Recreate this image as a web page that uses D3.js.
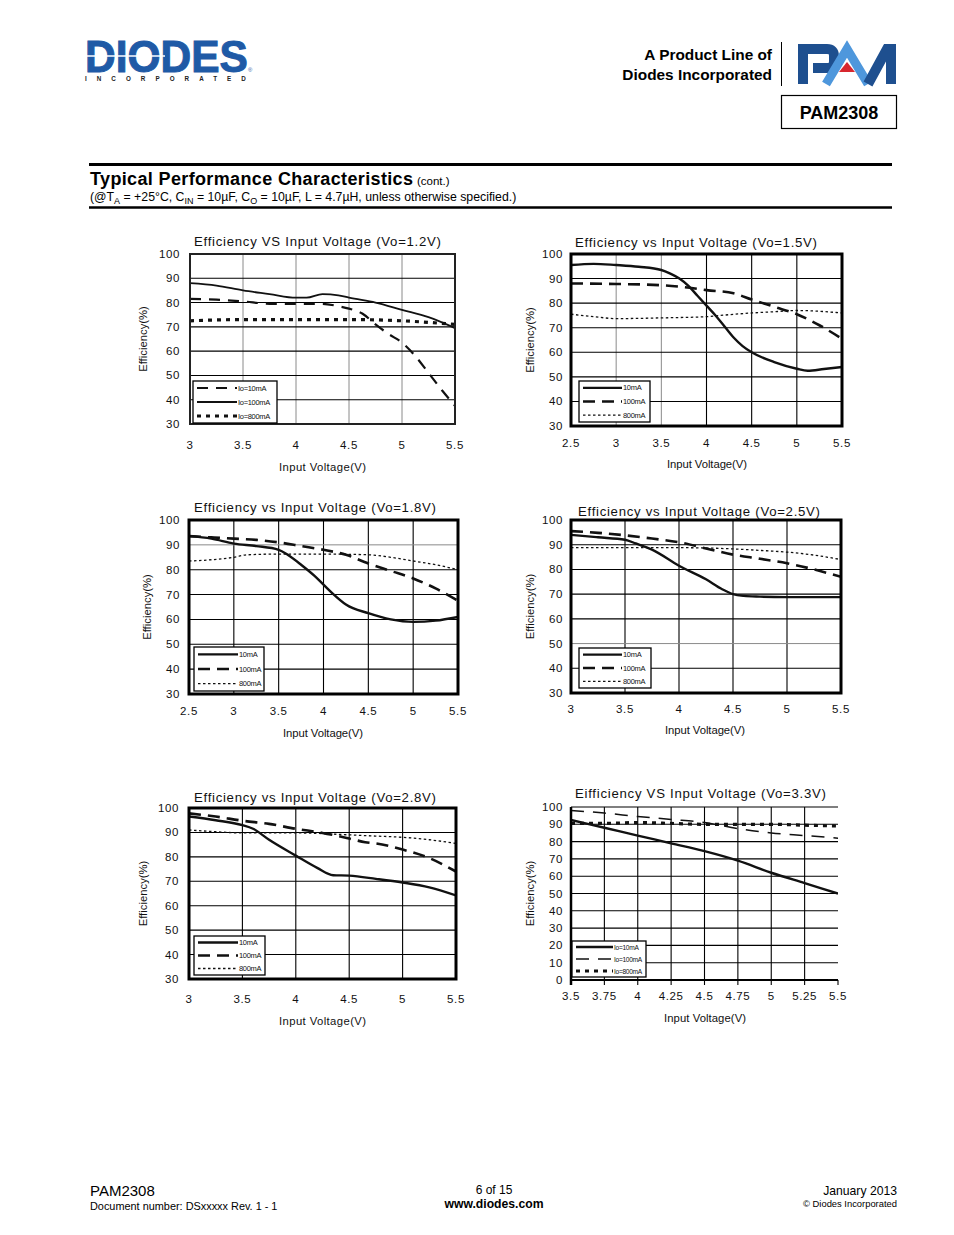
<!DOCTYPE html>
<html><head><meta charset="utf-8">
<script src="https://cdn.jsdelivr.net/npm/d3@7"></script>
<style>
html,body{margin:0;padding:0;background:#fff;}
svg{display:block;font-family:"Liberation Sans",Arial,sans-serif;}
</style></head>
<body><svg id="page" width="954" height="1235"></svg>
<script>
// ---------------- DATA ----------------
const seriesNames = ["10mA","100mA","800mA"];
// Vo = 1.2V
const v12_x10  = [3,3.25,3.5,3.75,4,4.25,4.4,4.5,4.625,4.75,4.875,5,5.125,5.25,5.375,5.5];
const v12_e10  = [81.5,81.2,80.5,79.5,79.5,79.5,78.5,77.5,75.5,71,67,63.5,58,51,44,37.5];
const v12_x100 = [3,3.25,3.5,3.75,4,4.1,4.25,4.4,4.5,4.75,5,5.25,5.5];
const v12_e100 = [88,87,85,83.5,82,82,83.5,83,82,80,77,74,69.5];
const v12_x800 = [3,3.5,4,4.5,5,5.5];
const v12_e800 = [72.5,73,73,73,72.5,71];
// Vo = 1.5V
const v15_x10  = [2.5,2.75,3,3.25,3.5,3.6,3.7,3.8,3.9,4,4.1,4.2,4.3,4.4,4.5,4.75,5,5.12,5.3,5.5];
const v15_e10  = [95.5,96,95.5,94.8,93.5,92,90,87,83,79,75,70.5,66,62.5,60,56,53.3,52.5,53.2,54];
const v15_x100 = [2.5,3,3.5,3.75,4,4.3,4.5,4.75,5,5.25,5.5];
const v15_e100 = [88,87.8,87.3,86.5,85.3,84,81.5,78.5,75.5,71,65.5];
const v15_x800 = [2.5,2.75,3,3.5,4,4.25,4.5,4.75,5,5.5];
const v15_e800 = [75.5,74.5,73.7,74,74.5,75.3,76,76.5,77,76];
// Vo = 1.8V
const v18_x10  = [2.5,2.75,3,3.25,3.5,3.6,3.75,3.9,4,4.1,4.25,4.5,4.75,5,5.25,5.5];
const v18_e10  = [93.5,92.5,90.5,89.5,88,86,82,77.5,74,70.5,66,62.5,60,59,59.5,61];
const v18_x100 = [2.5,2.75,3,3.25,3.5,3.75,4,4.25,4.5,4.75,5,5.25,5.5];
const v18_e100 = [93.5,93,92.5,92,91,89.5,88,86,82.5,79.5,76.5,72.5,67.5];
const v18_x800 = [2.5,2.75,3,3.15,3.5,4,4.5,4.75,5,5.25,5.5];
const v18_e800 = [83.5,84,85,86,86.3,86.3,86,85,83.5,82,80];
// Vo = 2.5V
const v25_x10  = [3,3.25,3.5,3.6,3.75,4,4.25,4.4,4.5,4.6,4.75,5,5.5];
const v25_e10  = [94,93,92,90.5,88,81.5,76,72,70,69.3,69,68.8,68.8];
const v25_x100 = [3,3.25,3.5,3.75,4,4.25,4.5,4.75,5,5.25,5.5];
const v25_e100 = [95.5,94.8,93.8,92.5,91,88.5,86,84.3,82.5,80,77];
const v25_x800 = [3,3.5,4,4.5,4.75,5,5.25,5.5];
const v25_e800 = [88.8,88.8,88.8,88.3,87.7,87,85.8,84];
// Vo = 2.8V
const v28_x10  = [3,3.25,3.5,3.6,3.75,4,4.2,4.35,4.5,4.75,5,5.25,5.5];
const v28_e10  = [96.5,95,93,91.5,87,80.5,75.5,72.5,72.3,71,69.5,67.5,64.2];
const v28_x100 = [3,3.25,3.5,3.75,4,4.25,4.5,4.65,4.75,5,5.25,5.5];
const v28_e100 = [97.8,96.5,94.8,93.5,91.5,89.8,87.5,86,85.5,83,79.5,74];
const v28_x800 = [3,3.25,3.5,4,4.5,4.75,5,5.25,5.5];
const v28_e800 = [91,90.3,89.8,89.8,89,88.5,88,87,85.5];
// Vo = 3.3V
const v33_x    = [3.5,3.75,4,4.25,4.5,4.75,5,5.25,5.5];
const v33_e10  = [92.5,88,83.5,79,74.5,69,62,56,50];
const v33_e100 = [98,96.5,94.5,92.8,91,87.5,85,83.5,82];
const v33_e800 = [90.5,90.5,91,90.5,90,90,90,89.5,89];

// Tick labels
const xTicks25 = [2.5,3,3.5,4,4.5,5,5.5];
const xTicks3  = [3,3.5,4,4.5,5,5.5];
const xTicks35 = [3.5,3.75,4,4.25,4.5,4.75,5,5.25,5.5];
const yTicks30 = [30,40,50,60,70,80,90,100];
const yTicks0  = [0,10,20,30,40,50,60,70,80,90,100];

const titles = [
  "Efficiency VS Input Voltage (Vo=1.2V)",
  "Efficiency vs Input Voltage (Vo=1.5V)",
  "Efficiency vs Input Voltage (Vo=1.8V)",
  "Efficiency vs Input Voltage (Vo=2.5V)",
  "Efficiency vs Input Voltage (Vo=2.8V)",
  "Eifficiency VS Input Voltage (Vo=3.3V)"
];
const legendLabels1 = ["Io=10mA","Io=100mA","Io=800mA"];
const legendLabels2 = ["10mA","100mA","800mA"];

const zip = (xs, ys) => xs.map((x,i)=>({x, y: ys[i]}));

// ---------------- STYLES / LAYOUT ----------------
const stDash  = {w:2.2, dash:"11,8"};
const stSolid = {w:1.8, dash:null};
const stDotSq = {w:3.2, dash:"4,5"};
const stDotThin = {w:1.3, dash:"2.5,2.5"};
const stDashThin = {w:1.5, dash:"13,9"};
const stSolidThick = {w:2.4, dash:null};
const stDashThick = {w:2.6, dash:"12,7"};

const charts = [
  { title: titles[0], xDomain:[3,5.5], xTicks:xTicks3, yDomain:[30,100], yTicks:yTicks30,
    plot:[190,254,455,424], frame:"box2", vGridGray:[3.5,4,4.5,5], hGridGray:[],
    titleX:[194,441], titleY:246, ytickX:180, xtickY:449, ylabX:147, xlab:[279,366], xlabY:471,
    legend:[193,381,277,423], legendSample:40, legendFont:7.5, legendLabels:legendLabels1,
    series:[ {d:zip(v12_x10,v12_e10), st:stDash}, {d:zip(v12_x100,v12_e100), st:stSolid}, {d:zip(v12_x800,v12_e800), st:stDotSq} ] },
  { title: titles[1], xDomain:[2.5,5.5], xTicks:xTicks25, yDomain:[30,100], yTicks:yTicks30,
    plot:[571,254,842,426], frame:"box3", vGridGray:[3,3.5], hGridGray:[],
    titleX:[575,817], titleY:247, ytickX:563, xtickY:447, ylabX:534, xlab:[667,747], xlabY:468,
    legend:[579,381,650,422], legendSample:39, legendFont:7.5, legendLabels:legendLabels2,
    series:[ {d:zip(v15_x10,v15_e10), st:stSolidThick}, {d:zip(v15_x100,v15_e100), st:stDashThick}, {d:zip(v15_x800,v15_e800), st:stDotThin} ] },
  { title: titles[2], xDomain:[2.5,5.5], xTicks:xTicks25, yDomain:[30,100], yTicks:yTicks30,
    plot:[189,520,458,694], frame:"box3", vGridGray:[], hGridGray:[90],
    titleX:[194,436], titleY:512, ytickX:180, xtickY:715, ylabX:151, xlab:[283,363], xlabY:737,
    legend:[194,647,264,691], legendSample:40, legendFont:7.5, legendLabels:legendLabels2,
    series:[ {d:zip(v18_x10,v18_e10), st:stSolidThick}, {d:zip(v18_x100,v18_e100), st:stDashThick}, {d:zip(v18_x800,v18_e800), st:stDotThin} ] },
  { title: titles[3], xDomain:[3,5.5], xTicks:xTicks3, yDomain:[30,100], yTicks:yTicks30,
    plot:[571,520,841,693], frame:"box3", vGridGray:[], hGridGray:[50],
    titleX:[578,820], titleY:516, ytickX:563, xtickY:713, ylabX:534, xlab:[665,745], xlabY:734,
    legend:[579,648,651,688], legendSample:39, legendFont:7.5, legendLabels:legendLabels2,
    series:[ {d:zip(v25_x10,v25_e10), st:stSolidThick}, {d:zip(v25_x100,v25_e100), st:stDashThick}, {d:zip(v25_x800,v25_e800), st:stDotThin} ] },
  { title: titles[4], xDomain:[3,5.5], xTicks:xTicks3, yDomain:[30,100], yTicks:yTicks30,
    plot:[189,808,456,979], frame:"box3", vGridGray:[], hGridGray:[],
    titleX:[194,436], titleY:802, ytickX:179, xtickY:1003, ylabX:147, xlab:[279,366], xlabY:1025,
    legend:[194,936,265,975], legendSample:40, legendFont:7.5, legendLabels:legendLabels2,
    series:[ {d:zip(v28_x10,v28_e10), st:stSolidThick}, {d:zip(v28_x100,v28_e100), st:stDashThick}, {d:zip(v28_x800,v28_e800), st:stDotThin} ] },
  { title: titles[5], xDomain:[3.5,5.5], xTicks:xTicks35, yDomain:[0,100], yTicks:yTicks0,
    plot:[571,807,838,980], frame:"axes", vGridGray:[], hGridGray:[],
    titleX:[575,826], titleY:798, ytickX:563, xtickY:1000, ylabX:534, xlab:[664,746], xlabY:1022,
    legend:[572,941,646,977], legendSample:37, legendFont:6.6, legendLabels:legendLabels1,
    series:[ {d:zip(v33_x,v33_e10), st:stSolidThick}, {d:zip(v33_x,v33_e100), st:stDashThin}, {d:zip(v33_x,v33_e800), st:stDotSq} ] }
];

const svg = d3.select("#page");
const defs = svg.append("defs");

// ---------------- HEADER ----------------
const blue = "#1f5aa6";
const hdr = svg.append("g");
// DIODES logo as a single text element (name, ®, INCORPORATED)
const logo = hdr.append("text").attr("transform","translate(85,72) scale(0.966,1)")
  .style("font-family","'Liberation Sans',Arial,sans-serif");
logo.append("tspan").attr("x",0).attr("y",0).attr("font-size",44).attr("font-weight","bold")
  .attr("fill",blue).attr("stroke",blue).attr("stroke-width",1).text("DIODES");
logo.append("tspan").attr("font-size",6).attr("fill",blue).attr("dy",0).text("®");
logo.append("tspan").attr("x",0).attr("y",9).attr("font-size",6.5).attr("font-weight","bold")
  .attr("fill","#222").attr("letter-spacing",10.4).text("INCORPORATED");
hdr.append("line").attr("x1",85).attr("x2",165).attr("y1",56).attr("y2",56).attr("stroke","#fff").attr("stroke-width",1.5);

hdr.append("text").attr("x",772).attr("y",60).attr("text-anchor","end").attr("font-size",15.4).attr("font-weight","bold").text("A Product Line of");
hdr.append("text").attr("x",772).attr("y",80).attr("text-anchor","end").attr("font-size",15.4).attr("font-weight","bold").text("Diodes Incorporated");
hdr.append("line").attr("x1",781.5).attr("x2",781.5).attr("y1",42).attr("y2",86).attr("stroke","#000").attr("stroke-width",1);
// PAM logo
const dark = "#1e4f8f", light = "#4e97dc";
hdr.append("path").attr("d","M803,84 V49 H827 Q834,49 834,56 V61 Q834,68 827,68 H813")
  .attr("fill","none").attr("stroke",dark).attr("stroke-width",10);
hdr.append("path").attr("d","M826,84 L847,49 L868,84").attr("fill","none").attr("stroke",light).attr("stroke-width",9);
hdr.append("path").attr("d","M839,72 L847,62 L855,72 Z").attr("fill","#d7262e");
hdr.append("path").attr("d","M868,84 L887,49 L891,49 L891,84").attr("fill","none").attr("stroke",dark).attr("stroke-width",10).attr("stroke-linejoin","miter");
hdr.append("rect").attr("x",781.5).attr("y",95.5).attr("width",115).attr("height",33).attr("fill","none").attr("stroke","#000").attr("stroke-width",1.2);
hdr.append("text").attr("x",839).attr("y",119).attr("text-anchor","middle").attr("font-size",18).attr("font-weight","bold").text("PAM2308");

hdr.append("line").attr("x1",89).attr("x2",892).attr("y1",164.5).attr("y2",164.5).attr("stroke","#000").attr("stroke-width",3);
hdr.append("text").attr("x",90).attr("y",185).attr("font-size",18).attr("font-weight","bold").attr("textLength",323).text("Typical Performance Characteristics");
hdr.append("text").attr("x",417).attr("y",185).attr("font-size",11.5).text("(cont.)");
const sub = hdr.append("text").attr("x",90).attr("y",201).attr("font-size",12.3);
const subParts = [["(@T",0],["A",1],[" = +25°C, C",0],["IN",1],[" = 10µF, C",0],["O",1],[" = 10µF, L = 4.7µH, unless otherwise specified.)",0]];
subParts.forEach(([t,s],i)=>{
  const prev = i>0 ? subParts[i-1][1] : 0;
  const ts = sub.append("tspan").text(t).attr("dy", s && !prev ? 3 : (!s && prev ? -3 : 0));
  if(s){ ts.attr("font-size",9); }
});
hdr.append("line").attr("x1",89).attr("x2",892).attr("y1",207.5).attr("y2",207.5).attr("stroke","#000").attr("stroke-width",2.5);

// ---------------- FOOTER ----------------
const ft = svg.append("g");
ft.append("text").attr("x",90).attr("y",1196).attr("font-size",15).text("PAM2308");
ft.append("text").attr("x",90).attr("y",1210).attr("font-size",10.9).text("Document number: DSxxxxx Rev. 1 - 1");
ft.append("text").attr("x",494).attr("y",1194).attr("text-anchor","middle").attr("font-size",12).text("6 of 15");
ft.append("text").attr("x",494).attr("y",1208).attr("text-anchor","middle").attr("font-size",12.2).attr("font-weight","bold").text("www.diodes.com");
ft.append("text").attr("x",897).attr("y",1195).attr("text-anchor","end").attr("font-size",12.2).text("January 2013");
ft.append("text").attr("x",897).attr("y",1207).attr("text-anchor","end").attr("font-size",9.4).text("© Diodes Incorporated");

// ---------------- CHARTS ----------------
charts.forEach((c, ci) => {
  const [L,T,R,B] = c.plot;
  const x = d3.scaleLinear().domain(c.xDomain).range([L,R]);
  const y = d3.scaleLinear().domain(c.yDomain).range([B,T]);
  const g = svg.append("g");
  g.append("rect").attr("x",L).attr("y",T).attr("width",R-L).attr("height",B-T).attr("fill","#fff");

  // grid
  const xIn = c.xTicks.filter(v => v>c.xDomain[0] && v<c.xDomain[1]);
  const yIn = c.yTicks.filter(v => v>c.yDomain[0] && v<c.yDomain[1]);
  const gridExt = c.frame==="axes" ? 5 : 0;
  g.append("g").selectAll("line").data(c.frame==="axes" ? c.xTicks.filter(v=>v<c.xDomain[1]) : xIn).join("line")
    .attr("x1",d=>x(d)).attr("x2",d=>x(d)).attr("y1",T).attr("y2",B+gridExt)
    .attr("stroke",d=>c.vGridGray.includes(d)?"#8a8a8a":"#000").attr("stroke-width",d=>c.vGridGray.includes(d)?1:1.1);
  g.append("g").selectAll("line").data(c.frame==="axes" ? c.yTicks.filter(v=>v>c.yDomain[0]) : yIn).join("line")
    .attr("x1",L).attr("x2",R).attr("y1",d=>y(d)).attr("y2",d=>y(d))
    .attr("stroke",d=>c.hGridGray.includes(d)?"#8a8a8a":"#000").attr("stroke-width",d=>c.hGridGray.includes(d)?1:1.1);

  // clip
  const cid = "clip"+ci;
  defs.append("clipPath").attr("id",cid).append("rect").attr("x",L).attr("y",T).attr("width",R-L).attr("height",B-T);

  const line = d3.line().x(d=>x(d.x)).y(d=>y(d.y)).curve(d3.curveMonotoneX);
  const lg = g.append("g").attr("clip-path",`url(#${cid})`);
  c.series.forEach(s => {
    lg.append("path").datum(s.d).attr("d",line).attr("fill","none").attr("stroke","#111")
      .attr("stroke-width",s.st.w).attr("stroke-dasharray",s.st.dash);
  });

  // frame
  if (c.frame==="axes") {
    g.append("line").attr("x1",L).attr("x2",L).attr("y1",T).attr("y2",B+gridExt).attr("stroke","#000").attr("stroke-width",2.5);
    g.append("line").attr("x1",L).attr("x2",R).attr("y1",B).attr("y2",B).attr("stroke","#000").attr("stroke-width",2.2);
    g.append("line").attr("x1",R).attr("x2",R).attr("y1",B).attr("y2",B+gridExt).attr("stroke","#000").attr("stroke-width",1.1);
  } else {
    const sw = c.frame==="box2" ? 2 : 3;
    g.append("rect").attr("x",L).attr("y",T).attr("width",R-L).attr("height",B-T)
      .attr("fill","none").attr("stroke",c.frame==="box2"?"#222":"#000").attr("stroke-width",sw);
  }

  // axes labels
  const fmt = d3.format("");
  g.append("g").selectAll("text").data(c.yTicks).join("text")
    .attr("x",c.ytickX).attr("y",d=>y(d)+4).attr("text-anchor","end").attr("font-size",11.5)
    .attr("letter-spacing",0.6).attr("fill","#111").text(d=>fmt(d));
  g.append("g").selectAll("text").data(c.xTicks).join("text")
    .attr("x",d=>x(d)).attr("y",c.xtickY).attr("text-anchor","middle").attr("font-size",11.5)
    .attr("letter-spacing",0.6).attr("fill","#111").text(d=>fmt(d));

  g.append("text").attr("x",c.titleX[0]).attr("y",c.titleY).attr("font-size",13.2).attr("fill","#111")
    .attr("textLength",c.titleX[1]-c.titleX[0]).attr("lengthAdjust","spacing").text(c.title);
  g.append("text").attr("x",c.xlab[0]).attr("y",c.xlabY).attr("font-size",11.3).attr("fill","#111")
    .attr("textLength",c.xlab[1]-c.xlab[0]).attr("lengthAdjust","spacing").text("Input Voltage(V)");
  const ym = (T+B)/2;
  g.append("text").attr("transform",`translate(${c.ylabX},${ym}) rotate(-90)`).attr("text-anchor","middle")
    .attr("font-size",11.3).attr("fill","#111").text("Efficiency(%)");

  // legend
  const [lx0,ly0,lx1,ly1] = c.legend;
  const lgd = g.append("g");
  lgd.append("rect").attr("x",lx0).attr("y",ly0).attr("width",lx1-lx0).attr("height",ly1-ly0)
    .attr("fill","#fff").attr("stroke","#000").attr("stroke-width",1.3);
  const rowH = (ly1-ly0)/3;
  c.series.forEach((s,i) => {
    const yy = ly0 + rowH*(i+0.5);
    lgd.append("line").attr("x1",lx0+4).attr("x2",lx0+4+c.legendSample).attr("y1",yy).attr("y2",yy)
      .attr("stroke","#111").attr("stroke-width",s.st.w).attr("stroke-dasharray",s.st.dash);
    lgd.append("text").attr("x",lx0+5+c.legendSample).attr("y",yy+2.6).attr("font-size",c.legendFont)
      .attr("letter-spacing",-0.3).attr("fill","#111").text(c.legendLabels[i]);
  });
});
</script>
</body></html>
